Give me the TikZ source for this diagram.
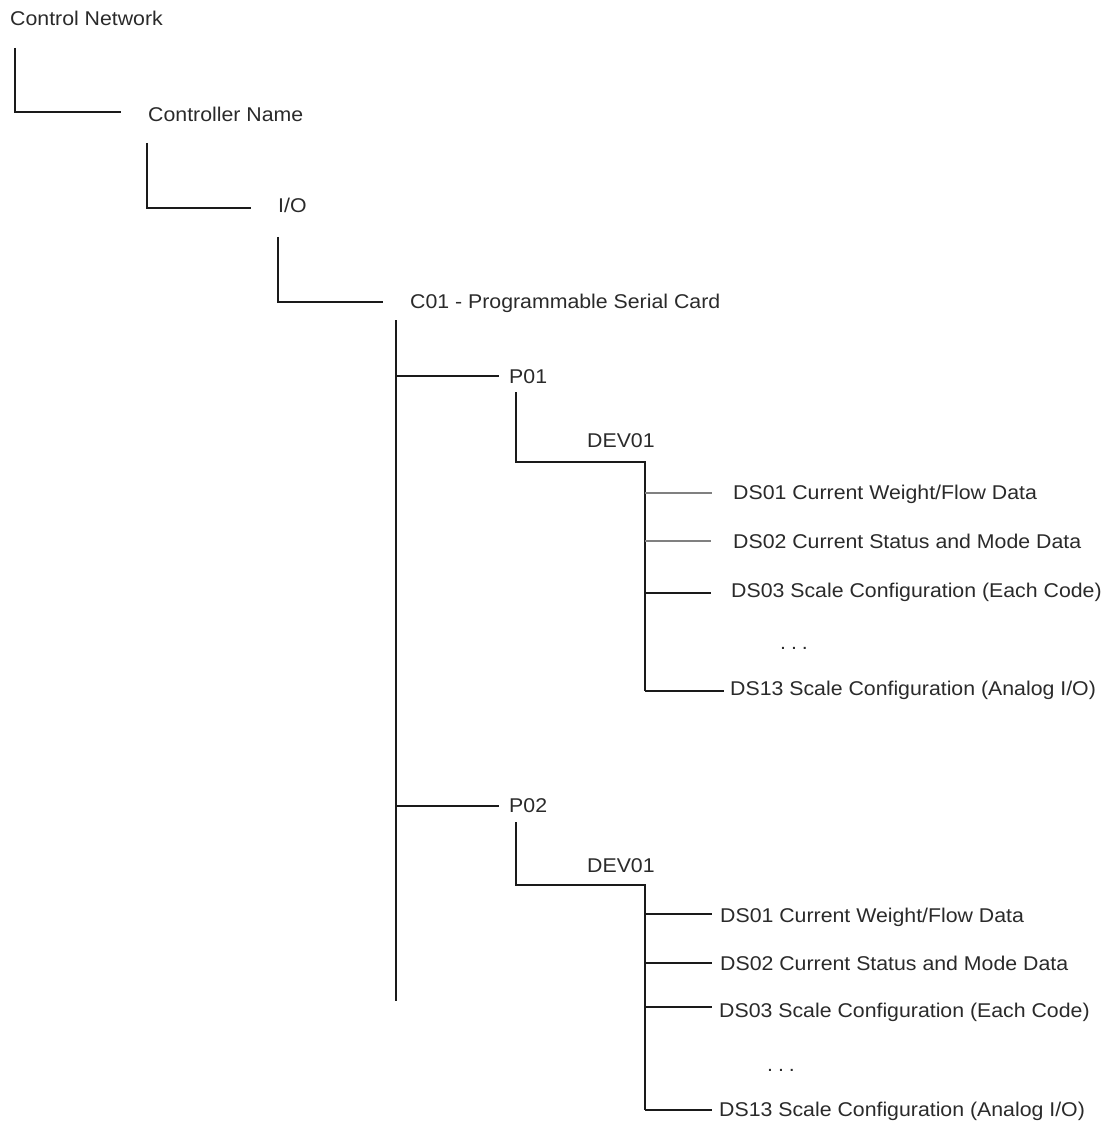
\documentclass[tikz,border=0pt]{standalone}
\usepackage{fontspec}
\setmainfont{Liberation Sans}[FakeStretch=1.07]
\definecolor{txt}{HTML}{2A2A2A}
\definecolor{ln}{HTML}{1A1A1A}
\definecolor{lgray}{HTML}{808080}
\begin{document}
\begin{tikzpicture}[x=1pt,y=-1pt,
  lbl/.style={anchor=base west,inner sep=0pt,text=txt,font=\fontsize{19.9}{22}\selectfont},
  link/.style={draw=ln,line width=1.7pt},
  glink/.style={draw=lgray,line width=2.4pt}]
\useasboundingbox (0,0) rectangle (1106,1123);
% labels
\node[lbl] (cn)   at (10,26)   {Control Network};
\node[lbl] (ctl)  at (148,122) {Controller Name};
\node[lbl] (io)   at (278,213) {I/O};
\node[lbl] (c01)  at (410,308) {C01 - Programmable Serial Card};
\node[lbl] (p01)  at (509,383) {P01};
\node[lbl] (dva)  at (587,447) {DEV01};
\node[lbl] (a1)   at (733,499) {DS01 Current Weight/Flow Data};
\node[lbl] (a2)   at (733,548) {DS02 Current Status and Mode Data};
\node[lbl] (a3)   at (731,597) {DS03 Scale Configuration (Each Code)};
\node[lbl] (adots) at (780,649) {.\hspace{0.25em}.\hspace{0.25em}.};
\node[lbl] (a13)  at (730,695) {DS13 Scale Configuration (Analog I/O)};
\node[lbl] (p02)  at (509,812) {P02};
\node[lbl] (dvb)  at (587,872) {DEV01};
\node[lbl] (b1)   at (720,922) {DS01 Current Weight/Flow Data};
\node[lbl] (b2)   at (720,970) {DS02 Current Status and Mode Data};
\node[lbl] (b3)   at (719,1017) {DS03 Scale Configuration (Each Code)};
\node[lbl] (bdots) at (767,1071) {.\hspace{0.25em}.\hspace{0.25em}.};
\node[lbl] (b13)  at (719,1116) {DS13 Scale Configuration (Analog I/O)};
% elbow start points and ends
\coordinate (s1) at (15,48);
\coordinate (e1) at (121,112);
\coordinate (s2) at (147,143);
\coordinate (e2) at (251,208);
\coordinate (s3) at (278,237);
\coordinate (e3) at (383,302);
\coordinate (t0) at (396,320);
\coordinate (t1) at (396,1001);
\coordinate (pa) at (499,376);
\coordinate (pb) at (499,806);
\coordinate (sa) at (516,392);
\coordinate (ja) at (645,462);
\coordinate (jaend) at (645,691);
\coordinate (sb) at (516,822);
\coordinate (jb) at (645,885);
\coordinate (jbend) at (645,1110);
% top chain
\draw[link] (s1) |- (e1);
\draw[link] (s2) |- (e2);
\draw[link] (s3) |- (e3);
% C01 trunk
\draw[link] (t0) -- (t1);
\draw[link] (t0 |- pa) -- (pa);
\draw[link] (t0 |- pb) -- (pb);
% P01 block
\draw[link] (sa) |- (ja) -- (jaend);
\draw[glink] (ja |- 0,493) -- (712,493);
\draw[glink] (ja |- 0,541) -- (711,541);
\draw[link] (ja |- 0,593) -- (711,593);
\draw[link] (jaend) -- (724,691);
% P02 block
\draw[link] (sb) |- (jb) -- (jbend);
\draw[link] (jb |- 0,914) -- (712,914);
\draw[link] (jb |- 0,963) -- (712,963);
\draw[link] (jb |- 0,1007) -- (712,1007);
\draw[link] (jbend) -- (712,1110);
\end{tikzpicture}
\end{document}
